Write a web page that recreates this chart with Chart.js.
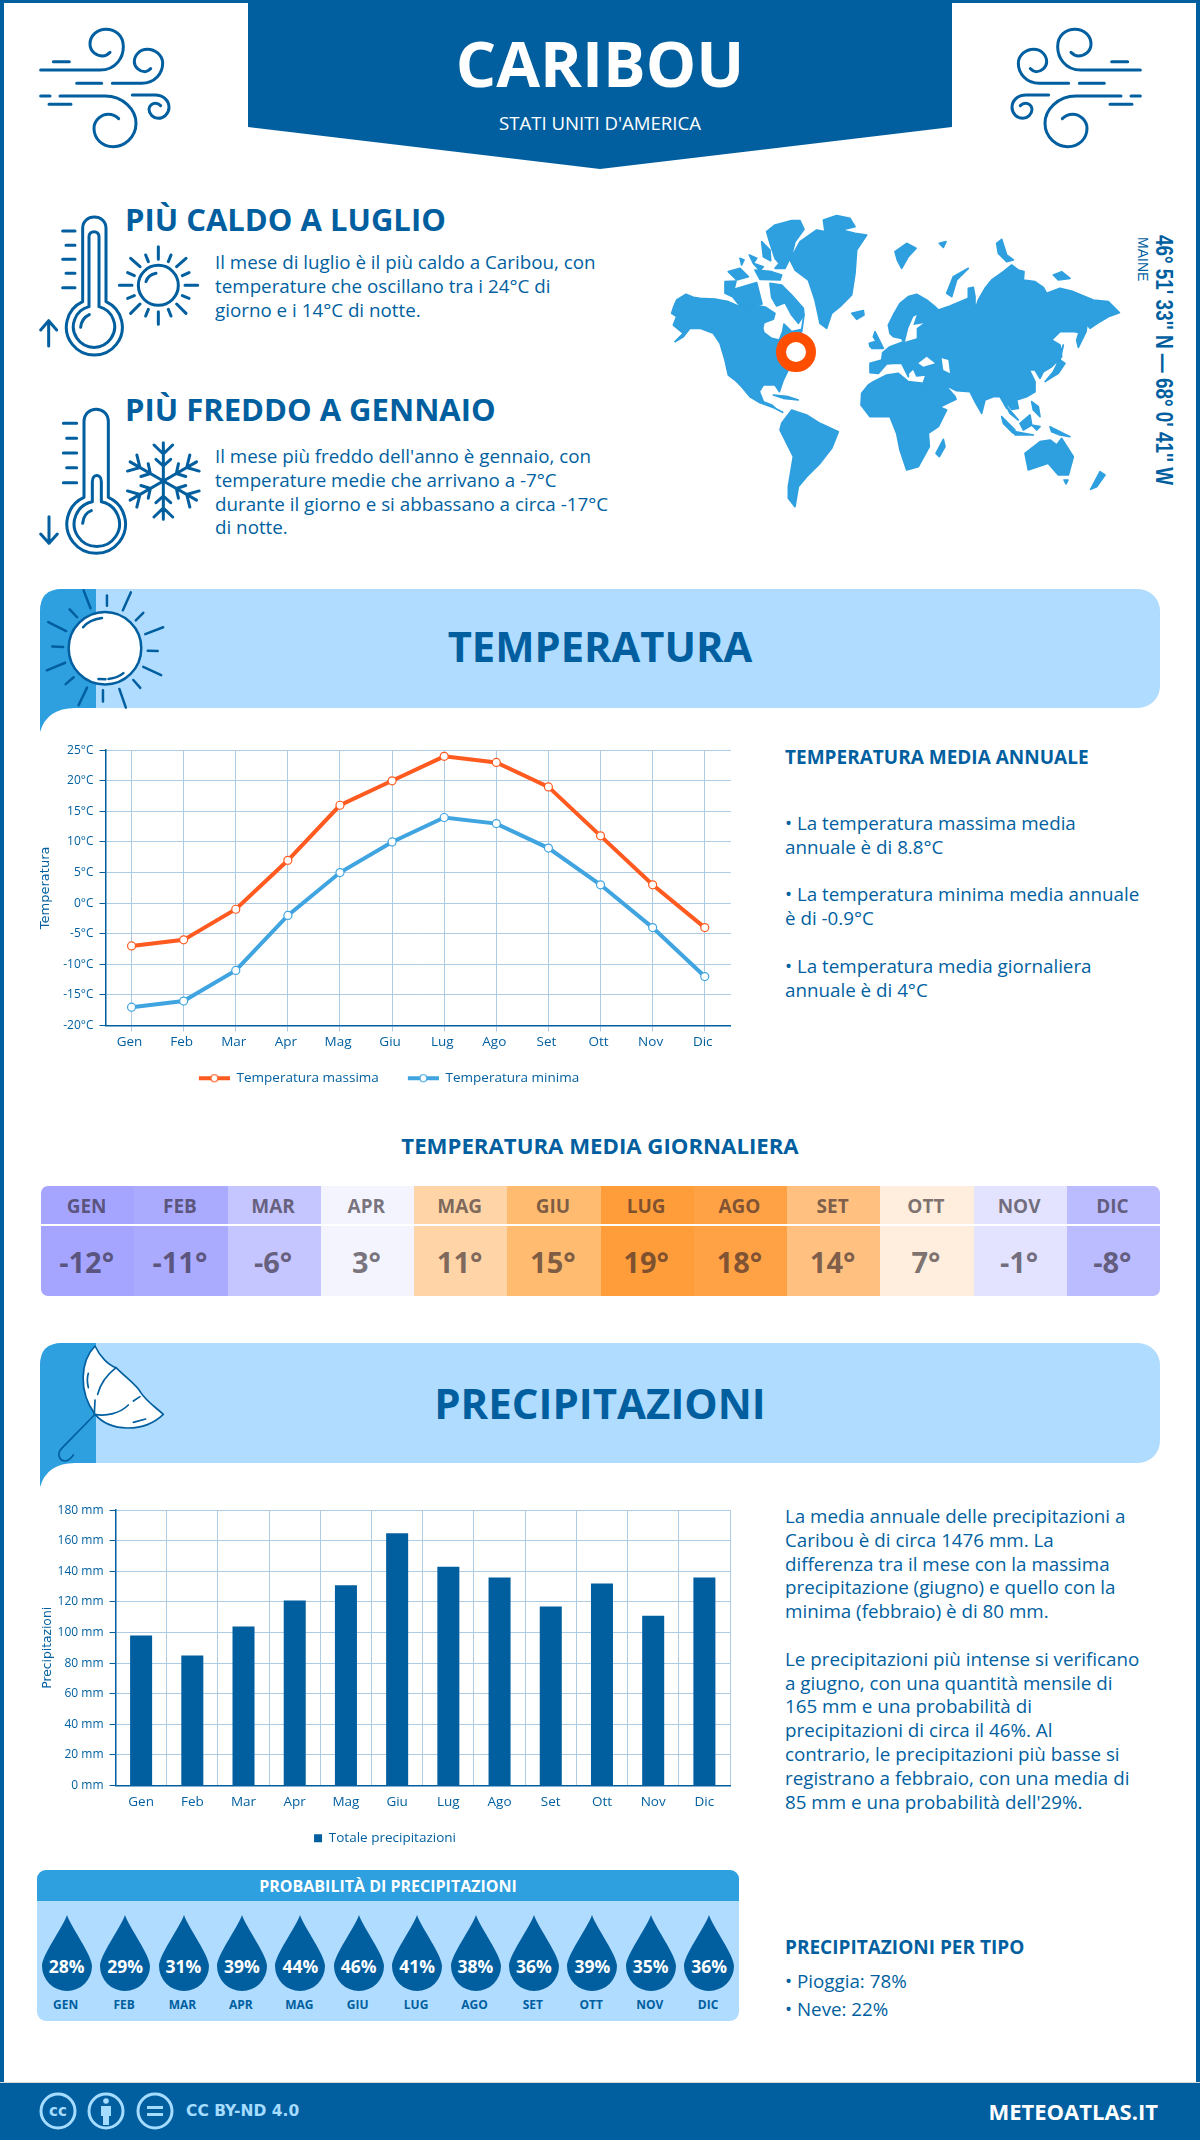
<!DOCTYPE html>
<html lang="it">
<head>
<meta charset="utf-8">
<title>Caribou</title>
<script src="https://cdn.jsdelivr.net/npm/chart.js@4"></script>
<style>
    html, body { margin: 0; padding: 0; background: #fff; }
    #page { position: relative; width: 1200px; height: 2140px; overflow: hidden; background: #fff; font-family: "Open Sans", sans-serif; color: #015f9f; }
    #page > * { position: absolute; }
    .frame { left: 0; top: 0; width: 1200px; height: 2140px; box-sizing: border-box; border: solid #015f9f; border-width: 3px 4px 0 4px; }
    .t { white-space: nowrap; line-height: 1; }
    .b { font-weight: 700; }
    .c { left: 0; width: 1200px; text-align: center; }
    .p { white-space: nowrap; font-size: 18.8px; line-height: 23.8px; }
    .i { fill: none; stroke: #015f9f; stroke-linecap: round; stroke-linejoin: round; }
    #strip { left: 41px; top: 1186px; width: 1119px; height: 110px; border-radius: 7px; overflow: hidden; display: flex; }
    #strip .cell { flex: 1; box-sizing: border-box; padding-right: 2px; color: rgba(40, 30, 40, .62); text-align: center; font-weight: 700; }
    #strip .m { height: 38px; line-height: 40px; font-size: 19px; margin-right: -2px; padding-right: 2px; border-bottom: 2px solid #fff; }
    #strip .v { font-size: 29px; line-height: 72px; }
    #panel { left: 37px; top: 1870px; width: 702px; height: 151px; border-radius: 9px; overflow: hidden; background: #b0dcff; }
    #panel .h { height: 31px; line-height: 32px; background: #2e9fdf; color: #fff; font-weight: 700; font-size: 16px; text-align: center; }
    #panel .d { position: absolute; top: 45px; width: 50px; text-align: center; }
    #panel svg { display: block; }
    #panel .pc { position: absolute; left: -5px; width: 60px; top: 41px; font-size: 17.5px; line-height: 20px; font-weight: 700; color: #fff; }
    #panel .l { position: absolute; left: -6px; width: 60px; top: 82px; font-size: 12px; line-height: 16px; font-weight: 700; color: #015f9f; }
</style>
</head>
<body>
<div id="page">
    <div class="frame"></div>

    <!-- intestazione -->
    <svg style="left:0;top:0" width="1200" height="175"><polygon points="248,0 952,0 952,127 600,169 248,127" fill="#015f9f"/></svg>
    <div class="t b c" style="top:31px;font-size:63.5px;color:#fff">CARIBOU</div>
    <div class="t c" style="top:114px;font-size:18.6px;color:#fff">STATI UNITI D'AMERICA</div>

    <svg style="left:20px;top:10px" width="170" height="160" viewBox="0 0 510 480">
        <g class="i" stroke-width="9">
            <path d="M62,180 L240,180 C290,180 310,140 310,110 C310,75 285,58 258,58 C230,58 210,78 210,102 C210,125 230,138 248,138 C258,138 265,132 270,127"/>
            <path d="M100,155 L148,155 M170,220 L245,220 M62,258 L90,258 M87,283 L153,283"/>
            <path d="M277,220 L365,220 C405,220 428,190 428,160 C428,135 405,118 382,118 C360,118 343,135 343,155 C343,172 360,185 375,185 C383,185 388,180 392,176"/>
            <path d="M120,258 L255,258 C310,258 348,300 348,340 C348,385 310,410 280,410 C245,410 222,385 222,355 C222,330 245,313 265,313 C280,313 290,320 296,326"/>
            <path d="M337,255 L405,255 C430,255 447,272 447,292 C447,312 430,325 415,325 C400,325 387,312 387,298 C387,287 397,280 407,280 C413,280 418,283 422,287"/>
        </g>
    </svg>
    <svg style="left:991px;top:10px;transform:scaleX(-1)" width="170" height="160" viewBox="0 0 510 480">
        <g class="i" stroke-width="9">
            <path d="M62,180 L240,180 C290,180 310,140 310,110 C310,75 285,58 258,58 C230,58 210,78 210,102 C210,125 230,138 248,138 C258,138 265,132 270,127"/>
            <path d="M100,155 L148,155 M170,220 L245,220 M62,258 L90,258 M87,283 L153,283"/>
            <path d="M277,220 L365,220 C405,220 428,190 428,160 C428,135 405,118 382,118 C360,118 343,135 343,155 C343,172 360,185 375,185 C383,185 388,180 392,176"/>
            <path d="M120,258 L255,258 C310,258 348,300 348,340 C348,385 310,410 280,410 C245,410 222,385 222,355 C222,330 245,313 265,313 C280,313 290,320 296,326"/>
            <path d="M337,255 L405,255 C430,255 447,272 447,292 C447,312 430,325 415,325 C400,325 387,312 387,298 C387,287 397,280 407,280 C413,280 418,283 422,287"/>
        </g>
    </svg>

    <!-- termometri -->
    <svg style="left:20px;top:200px" width="190" height="360" viewBox="0 0 570 1080">
        <g class="i" stroke-width="9">
            <path d="M188,305 L188,85 C188,40 258,40 258,85 L258,305 A84,84 0 1 1 188,305 Z"/>
            <path d="M207,320 L207,110 C207,90 237,90 237,110 L237,320 A62,62 0 1 1 207,320 Z"/>
            <path d="M182,382 C184,362 195,350 208,344"/>
            <path d="M128,93 H165 M138,136 H165 M128,178 H165 M138,220 H165 M128,263 H165"/>
            <path d="M86,438 L86,362 M62,390 L86,362 L110,390"/>
            <circle cx="415" cy="256" r="60"/>
            <path d="M378,245 C382,232 393,223 408,220"/>
            <path d="M415,140 V178 M415,335 V373 M298,256 H336 M495,256 H533 M332,175 L360,200 M498,175 L470,200 M332,340 L360,312 M498,340 L470,312"/>
            <path d="M377,165 L385,185 M453,165 L445,185 M323,218 L343,227 M507,218 L487,227 M323,295 L343,287 M507,295 L487,287 M377,348 L385,328 M453,348 L445,328"/>

            <path d="M192,892 L192,665 C192,615 265,615 265,665 L265,892 A88,88 0 1 1 192,892 Z"/>
            <path d="M217,905 L217,845 C217,820 244,820 244,845 L244,905 A68,68 0 1 1 217,905 Z"/>
            <path d="M188,970 C190,950 200,937 214,932"/>
            <path d="M130,670 H170 M140,715 H170 M130,759 H170 M140,803 H170 M130,848 H170"/>
            <path d="M87,950 L87,1030 M62,1002 L87,1030 L112,1002"/>
            <g id="flake" transform="translate(430,843)"></g>
        </g>
    </svg>

    <div class="t b" style="left:125px;top:204px;font-size:31px">PIÙ CALDO A LUGLIO</div>
    <div class="p" style="left:215px;top:251px">Il mese di luglio è il più caldo a Caribou, con<br>temperature che oscillano tra i 24°C di<br>giorno e i 14°C di notte.</div>
    <div class="t b" style="left:125px;top:394px;font-size:31px">PIÙ FREDDO A GENNAIO</div>
    <div class="p" style="left:215px;top:445px">Il mese più freddo dell'anno è gennaio, con<br>temperature medie che arrivano a -7°C<br>durante il giorno e si abbassano a circa -17°C<br>di notte.</div>

    <!-- mappa -->
    <svg style="left:660px;top:200px" width="520" height="320" viewBox="0 0 1560 960">
        <g fill="#2e9fdf" stroke="#2e9fdf" stroke-width="5" stroke-linejoin="round">
            <!-- Nord America -->
            <path d="M35,340 L42,318 L50,300 L78,283 L100,292 L120,295 L165,297 L205,305 L240,320 L285,316 L318,322 L345,340 L340,358 L312,368 L308,385 L312,398 L335,415 L358,420 L368,395 L372,372 L395,395 L425,388 L432,345 L425,395 L400,440 L385,510 L370,540 L358,575 L345,555 L310,555 L298,575 L310,605 L335,615 L350,628 L368,637 L345,625 L300,608 L270,590 L245,560 L225,540 L205,525 L195,480 L180,430 L160,400 L120,385 L90,385 L70,410 L45,425 L70,400 L40,375 L50,350 Z"/>
            <path d="M320,95 L345,75 L395,62 L420,62 L432,88 L405,125 L395,165 L375,205 L345,205 L358,190 L345,175 L330,130 Z"/>
            <path d="M330,250 L365,255 L395,285 L430,325 L432,345 L415,370 L395,345 L375,308 L350,318 L335,292 Z"/>
            <path d="M195,245 L228,243 L222,268 L290,248 L306,312 L285,318 L240,318 L218,290 L195,280 Z"/>
            <path d="M205,215 L240,205 L265,230 L230,240 Z M285,210 L335,215 L365,225 L360,240 L300,238 Z M305,125 L330,150 L332,182 L310,170 Z M268,165 L290,175 L280,190 Z M240,175 L252,180 L245,195 Z M280,190 L310,200 L300,212 Z"/>
            <!-- Groenlandia e isole artiche -->
            <path d="M490,60 L530,47 L570,55 L585,80 L545,90 L585,100 L620,105 L590,150 L585,220 L575,285 L540,320 L515,340 L500,385 L480,370 L465,300 L445,240 L405,210 L390,180 L420,125 L470,90 L495,95 Z"/>
            <path d="M575,340 L610,332 L612,345 L590,358 Z"/>
            <path d="M705,155 L740,130 L768,145 L745,170 L725,205 L712,180 Z M838,130 L858,125 L850,142 Z"/>
            <path d="M1010,130 L1025,118 L1040,165 L1060,180 L1040,185 L1015,160 Z M860,280 L880,230 L925,205 L890,240 L875,290 Z M1180,225 L1205,215 L1230,235 L1195,240 Z"/>
            <!-- Eurasia -->
            <path d="M690,400 L685,375 L700,345 L720,310 L745,290 L770,283 L800,300 L825,320 L835,330 L870,318 L900,305 L925,295 L925,265 L940,262 L945,290 L945,330 L955,300 L975,265 L995,240 L1030,215 L1055,195 L1075,210 L1092,215 L1090,240 L1125,245 L1150,262 L1160,280 L1200,265 L1240,275 L1300,300 L1345,305 L1378,338 L1345,350 L1320,365 L1290,385 L1280,372 L1265,400 L1245,395 L1200,395 L1175,420 L1200,435 L1205,470 L1175,500 L1150,515 L1140,535 L1125,510 L1108,510 L1125,545 L1125,575 L1100,590 L1070,600 L1075,625 L1055,628 L1040,610 L1040,625 L1020,590 L1000,590 L975,600 L965,640 L945,605 L930,575 L890,572 L855,555 L885,590 L888,598 L832,625 L800,565 L790,548 L798,525 L770,528 L760,505 L745,520 L745,530 L725,490 L700,490 L680,492 L655,520 L630,518 L630,490 L665,480 L668,458 L690,440 L730,425 L725,415 L700,410 Z"/>
            <path d="M1282,368 L1278,395 L1255,442 L1250,420 L1258,395 Z"/>
            <path d="M645,395 L660,425 L670,445 L635,445 L650,425 L640,410 Z M628,430 L645,425 L640,445 L630,440 Z"/>
            <path d="M1210,435 L1200,480 L1215,490 L1195,520 L1155,545 L1180,515 L1190,495 L1200,460 Z"/>
            <!-- Africa -->
            <path d="M605,580 L625,555 L640,545 L680,525 L715,520 L745,545 L790,550 L825,615 L860,630 L835,680 L805,700 L808,740 L775,800 L740,810 L720,750 L710,700 L690,650 L630,650 L603,615 Z"/>
            <path d="M850,718 L855,740 L838,770 L828,760 Z"/>
            <!-- Sud America -->
            <path d="M365,670 L395,630 L440,645 L480,670 L535,695 L515,745 L480,790 L440,830 L415,860 L405,920 L385,895 L385,860 L400,770 L375,720 L360,690 Z"/>
            <path d="M340,585 L385,590 L415,600 L370,595 Z"/>
            <!-- Oceania e Indonesia -->
            <path d="M1095,760 L1140,725 L1170,720 L1190,735 L1205,715 L1240,770 L1225,825 L1195,825 L1165,790 L1105,810 Z M1212,840 L1224,840 L1218,852 Z"/>
            <path d="M1320,815 L1335,825 L1310,860 L1292,868 Z"/>
            <path d="M1025,650 L1065,690 L1060,700 L1030,670 Z M1065,695 L1120,705 L1065,705 Z M1080,670 L1110,645 L1115,675 L1090,690 Z M1115,675 L1140,680 L1130,690 Z M1170,680 L1230,710 L1200,705 L1175,695 Z M1115,605 L1135,620 L1140,650 L1120,630 Z M1040,620 L1075,660 L1050,640 Z"/>
        </g>
        <g fill="#fff">
            <path d="M845,475 L865,480 L870,520 L850,510 Z"/>
            <path d="M775,490 L800,470 L825,490 L790,500 Z"/>
            <path d="M735,425 L745,385 L760,350 L770,345 L760,375 L790,370 L770,385 L770,415 Z"/>
        </g>
        <circle cx="408" cy="456" r="45" fill="#fff" stroke="#ff4e00" stroke-width="30"/>
    </svg>
    <div class="t" style="left:1175px;top:235px;font-family:'Liberation Sans';font-weight:700;font-size:23px;transform-origin:0 0;transform:rotate(90deg) scaleX(.822)">46° 51' 33'' N — 68° 0' 41'' W</div>
    <div class="t" style="left:1150px;top:237px;font-family:'Liberation Sans';font-size:14px;transform-origin:0 0;transform:rotate(90deg)">MAINE</div>

    <!-- fascia temperatura -->
    <svg style="left:0;top:580px" width="1200" height="160">
        <rect x="40" y="9" width="1120" height="119" rx="22" fill="#b0dcff"/>
        <path d="M96,9 L62,9 Q40,9 40,31 L40,152 Q47,128 75,128 L96,128 Z" fill="#2e9fdf"/>
    </svg>
    <svg style="left:0;top:580px" width="780" height="160" viewBox="0 0 1568 464" preserveAspectRatio="none">
        <g fill="none" stroke="#015f9f" stroke-width="2.5" stroke-linecap="round">
            <ellipse cx="211" cy="198" rx="73" ry="105" fill="#fff" vector-effect="non-scaling-stroke"/>
            <path vector-effect="non-scaling-stroke" d="M168,30 L182,82 M215,45 L215,75 M263,36 L247,88 M288,95 L273,117 M328,137 L292,157 M297,205 L317,206 M288,252 L324,276 M268,290 L282,313 M240,316 L253,370 M207,320 L207,352 M175,312 L158,363 M148,282 L132,302 M131,240 L94,262 M105,193 L127,194 M97,122 L133,148 M140,85 L155,108"/>
            <path vector-effect="non-scaling-stroke" d="M167,137 C175,122 190,113 205,110 M198,287 L212,288 M218,287 C230,285 240,280 248,270"/>
        </g>
    </svg>
    <div class="t b c" style="top:625px;font-size:41.7px">TEMPERATURA</div>

    <canvas id="tempChart" style="left:0;top:737px" width="736" height="358"></canvas>

    <div class="t b" style="left:785px;top:748px;font-size:19px">TEMPERATURA MEDIA ANNUALE</div>
    <div class="p" style="left:785px;top:812px">• La temperatura massima media<br>annuale è di 8.8°C<br><br>• La temperatura minima media annuale<br>è di -0.9°C<br><br>• La temperatura media giornaliera<br>annuale è di 4°C</div>

    <div class="t b c" style="top:1135px;font-size:22.2px">TEMPERATURA MEDIA GIORNALIERA</div>
    <div id="strip"></div>

    <!-- fascia precipitazioni -->
    <svg style="left:0;top:1335px" width="1200" height="160">
        <rect x="40" y="8" width="1120" height="120" rx="22" fill="#b0dcff"/>
        <path d="M96,8 L62,8 Q40,8 40,30 L40,152 Q47,128 75,128 L96,128 Z" fill="#2e9fdf"/>
    </svg>
    <svg style="left:30px;top:1335px" width="170" height="160" viewBox="0 0 510 480">
        <path d="M195,33 C150,80 145,170 195,238 C240,290 340,295 400,238 C375,215 350,200 332,172 C320,150 290,130 258,98 C235,90 210,65 195,33 Z" fill="#fff" stroke="#015f9f" stroke-width="5" stroke-linejoin="round"/>
        <g class="i" stroke-width="5">
            <path d="M258,98 C230,120 210,150 203,178 M195,195 L193,238 M193,238 C230,245 270,235 295,210 M310,198 L330,185 M175,115 C170,130 172,145 175,158 M310,262 L347,252"/>
            <path d="M193,240 L95,340 C78,358 90,378 105,378 C115,378 123,370 130,360"/>
        </g>
    </svg>
    <div class="t b c" style="top:1382px;font-size:42px">PRECIPITAZIONI</div>

    <canvas id="rainChart" style="left:0;top:1497px" width="732" height="358"></canvas>

    <div class="p" style="left:785px;top:1505px">La media annuale delle precipitazioni a<br>Caribou è di circa 1476 mm. La<br>differenza tra il mese con la massima<br>precipitazione (giugno) e quello con la<br>minima (febbraio) è di 80 mm.<br><br>Le precipitazioni più intense si verificano<br>a giugno, con una quantità mensile di<br>165 mm e una probabilità di<br>precipitazioni di circa il 46%. Al<br>contrario, le precipitazioni più basse si<br>registrano a febbraio, con una media di<br>85 mm e una probabilità dell'29%.</div>

    <div id="panel"><div class="h">PROBABILITÀ DI PRECIPITAZIONI</div></div>

    <div class="t b" style="left:785px;top:1938px;font-size:19px">PRECIPITAZIONI PER TIPO</div>
    <div class="p" style="left:785px;top:1967px;line-height:28px">• Pioggia: 78%<br>• Neve: 22%</div>

    <!-- piede -->
    <div style="left:0;top:2082px;width:1200px;height:58px;background:#015f9f;border-top:1px solid #d8d8d8;box-sizing:border-box"></div>
    <svg style="left:30px;top:2083px" width="150" height="57">
        <g fill="none" stroke="#a5dcff" stroke-width="3">
            <circle cx="28" cy="28" r="17"/>
            <circle cx="76" cy="28" r="17"/>
            <circle cx="125" cy="28" r="17"/>
        </g>
        <text x="28" y="33" text-anchor="middle" font-family="DejaVu Sans" font-weight="700" font-size="15" fill="#a5dcff">cc</text>
        <g fill="#a5dcff">
            <circle cx="76" cy="18" r="2.8"/>
            <rect x="71" y="23" width="10" height="10"/>
            <rect x="73" y="33" width="6" height="9"/>
            <rect x="117" y="23" width="16" height="3"/>
            <rect x="117" y="30" width="16" height="3"/>
        </g>
    </svg>
    <div class="t" style="left:186px;top:2104px;font-family:'DejaVu Sans';font-weight:700;font-size:15.5px;color:#a5dcff">CC BY-ND 4.0</div>
    <div class="t b" style="right:42px;top:2100px;font-size:22px;color:#fff">METEOATLAS.IT</div>
</div>

<script>
const months = ["Gen", "Feb", "Mar", "Apr", "Mag", "Giu", "Lug", "Ago", "Set", "Ott", "Nov", "Dic"];
const tempMax = [-7, -6, -1, 7, 16, 20, 24, 23, 19, 11, 3, -4];
const tempMin = [-17, -16, -11, -2, 5, 10, 14, 13, 9, 3, -4, -12];
const tempDaily = [-12, -11, -6, 3, 11, 15, 19, 18, 14, 7, -1, -8];
const rainTotal = [98, 85, 104, 121, 131, 165, 143, 136, 117, 132, 111, 136];
const rainChance = [28, 29, 31, 39, 44, 46, 41, 38, 36, 39, 35, 36];

const dark = "#015f9f";
const gridColor = "#adcbe2";
const maxColor = "#ff5a1f";
const minColor = "#3fa4e0";
const stripColors = ["#a5a5ff", "#aaaaff", "#c5c5ff", "#f4f4ff", "#ffd5a8", "#ffbb70", "#ff9d3a", "#ffa245", "#ffc080", "#ffeedd", "#e3e3ff", "#bbbbff"];

Chart.defaults.font.family = "'Open Sans', sans-serif";
Chart.defaults.font.size = 12;
Chart.defaults.color = dark;
Chart.defaults.animation = false;
Chart.defaults.responsive = false;
Chart.defaults.devicePixelRatio = 1;

// campione della legenda: linea spessa con il cerchietto
function legendSample(color) {
    const c = document.createElement("canvas");
    c.width = 50;
    c.height = 12;
    const g = c.getContext("2d");
    g.fillStyle = color;
    g.fillRect(19, 4, 31, 4);
    g.beginPath();
    g.arc(34.5, 6, 3.5, 0, Math.PI * 2);
    g.fillStyle = "#fff";
    g.fill();
    g.lineWidth = 1.2;
    g.strokeStyle = color;
    g.stroke();
    return c;
}

function axisTitle(text, padTop, size) {
    return {
        display: true,
        text: text,
        color: dark,
        font: { family: "'DejaVu Sans', sans-serif", size: size },
        padding: { top: padTop, bottom: 0 },
    };
}

new Chart(document.getElementById("tempChart"), {
    type: "line",
    data: {
        labels: months,
        datasets: [
            {
                label: "Temperatura massima",
                data: tempMax,
                borderColor: maxColor,
                backgroundColor: maxColor,
                borderWidth: 4,
                tension: 0,
                pointRadius: 4,
                pointBackgroundColor: "#fff",
                pointBorderColor: maxColor,
                pointBorderWidth: 1.2,
            },
            {
                label: "Temperatura minima",
                data: tempMin,
                borderColor: minColor,
                backgroundColor: minColor,
                borderWidth: 4,
                tension: 0,
                pointRadius: 4,
                pointBackgroundColor: "#fff",
                pointBorderColor: minColor,
                pointBorderWidth: 1.2,
            },
        ],
    },
    options: {
        layout: { padding: { left: 25, right: 2, top: 0, bottom: 0 } },
        plugins: {
            tooltip: { enabled: false },
            legend: {
                position: "bottom",
                labels: {
                    usePointStyle: true,
                    pointStyleWidth: 50,
                    padding: 10,
                    color: dark,
                    font: { size: 13.5 },
                    generateLabels: (chart) => chart.data.datasets.map((d, i) => ({
                        text: d.label,
                        fontColor: dark,
                        pointStyle: legendSample(d.borderColor),
                        datasetIndex: i,
                        lineWidth: 0,
                    })),
                },
            },
        },
        scales: {
            x: {
                offset: true,
                afterFit: (s) => { s.height = 36; },
                grid: { offset: false, color: gridColor, tickColor: gridColor, tickLength: 6 },
                border: { color: dark, width: 1.5 },
                ticks: { padding: 3, labelOffset: -2, maxRotation: 0, font: { size: 13.5 } },
            },
            y: {
                min: -20,
                max: 25,
                afterFit: (s) => { s.width = 80.5; },
                grid: { color: gridColor, tickColor: dark, tickLength: 6 },
                border: { color: dark, width: 1.5 },
                title: axisTitle("Temperatura", 13, 13),
                ticks: { stepSize: 5, padding: 6, callback: (v) => v + "°C" },
            },
        },
    },
});

new Chart(document.getElementById("rainChart"), {
    type: "bar",
    data: {
        labels: months,
        datasets: [
            {
                label: "Totale precipitazioni",
                data: rainTotal,
                backgroundColor: dark,
                categoryPercentage: 1,
                barPercentage: 0.43,
            },
        ],
    },
    options: {
        layout: { padding: { left: 40, right: 2, top: 0, bottom: 0 } },
        plugins: {
            tooltip: { enabled: false },
            legend: {
                position: "bottom",
                labels: { boxWidth: 8, boxHeight: 8, padding: 10, color: dark, font: { size: 13.5 } },
            },
        },
        scales: {
            x: {
                afterFit: (s) => { s.height = 36; },
                grid: { color: gridColor, tickColor: "transparent", tickLength: 6 },
                border: { color: dark, width: 1.5 },
                ticks: { padding: 3, maxRotation: 0, font: { size: 13.5 } },
            },
            y: {
                min: 0,
                max: 180,
                afterFit: (s) => { s.width = 75.5; },
                grid: { color: gridColor, tickColor: dark, tickLength: 6 },
                border: { color: dark, width: 1.5 },
                title: axisTitle("Precipitazioni", 0, 12.3),
                ticks: { stepSize: 20, padding: 6, callback: (v) => v + " mm" },
            },
        },
    },
});

// striscia delle temperature medie
const strip = document.getElementById("strip");
months.forEach((m, i) => {
    const cell = document.createElement("div");
    cell.className = "cell";
    cell.style.background = stripColors[i];
    cell.innerHTML = '<div class="m">' + m.toUpperCase() + '</div><div class="v">' + tempDaily[i] + "°</div>";
    strip.appendChild(cell);
});

// gocce delle probabilità
const panel = document.getElementById("panel");
months.forEach((m, i) => {
    const drop = document.createElement("div");
    drop.className = "d";
    drop.style.left = 4.7 + i * 58.4 + "px";
    drop.innerHTML = '<svg width="50" height="76" viewBox="0 0 50 76"><path d="M25,0 C21,12 0,40 0,51 A25,25 0 0 0 50,51 C50,40 29,12 25,0 Z" fill="' + dark + '"/></svg>'
        + '<div class="pc">' + rainChance[i] + '%</div><div class="l">' + m.toUpperCase() + "</div>";
    panel.appendChild(drop);
});

// fiocco di neve: un braccio ripetuto sei volte
const flake = document.getElementById("flake");
for (let a = 0; a < 360; a += 60) {
    const arm = document.createElementNS("http://www.w3.org/2000/svg", "path");
    arm.setAttribute("d", "M0,0 L0,-115 M-28,-108 L0,-81 L28,-108 M-22,-65 L0,-45 L22,-65");
    arm.setAttribute("transform", "rotate(" + a + ")");
    flake.appendChild(arm);
}
</script>
</body>
</html>
